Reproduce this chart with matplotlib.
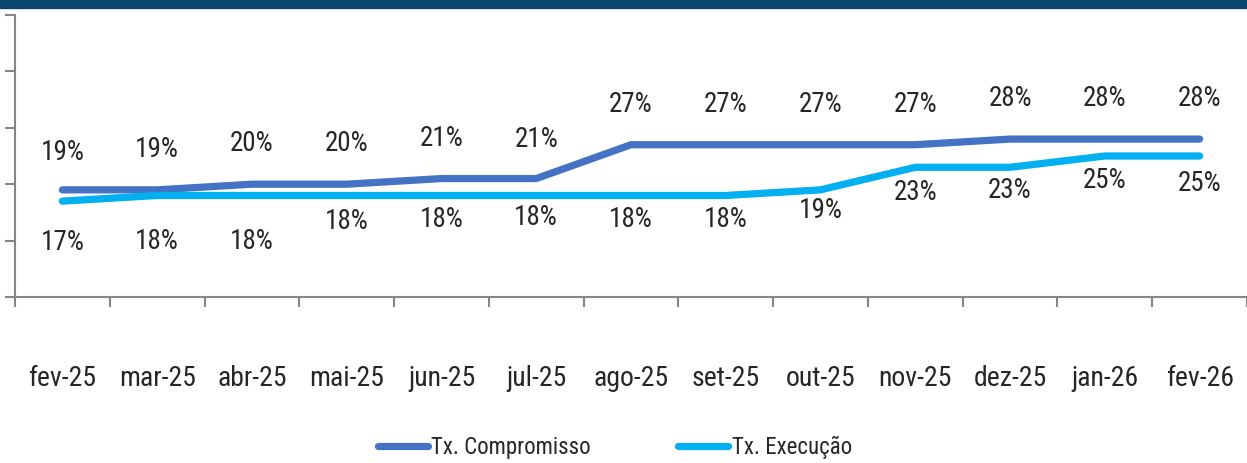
import matplotlib
matplotlib.use("Agg")
import matplotlib.pyplot as plt
from matplotlib import font_manager
from matplotlib.patches import Rectangle

# data
months = ["fev-25", "mar-25", "abr-25", "mai-25", "jun-25", "jul-25", "ago-25",
          "set-25", "out-25", "nov-25", "dez-25", "jan-26", "fev-26"]
compromisso = [19, 19, 20, 20, 21, 21, 27, 27, 27, 27, 28, 28, 28]
execucao = [17, 18, 18, 18, 18, 18, 18, 18, 19, 23, 23, 25, 25]

# label offsets (points) - layout only
off_comp = [27, 29, 29, 29, 29, 28, 29, 29, 29, 29, 29, 29, 29]
off_exec = [-30, -33, -33, -19, -17, -16, -17, -17, -15, -18, -17, -18, -20]

names = {f.name for f in font_manager.fontManager.ttflist}
fam = "DejaVu Sans"
for cand in ["Liberation Sans Narrow", "Roboto Condensed", "Open Sans Condensed", "Lato", "Roboto"]:
    if cand in names:
        fam = cand
        break
plt.rcParams['font.family'] = [fam, 'DejaVu Sans']

c_comp = "#4472C4"
c_exec = "#00B0F0"
grey = "#868686"
txt = "#262626"
fs = 19.5

W, H = 1247, 463
fig = plt.figure(figsize=(W / 100, H / 100), dpi=100)
fig.patches.append(Rectangle((0, 1 - 8 / H), 1, 8 / H, transform=fig.transFigure,
                             color="#0C4470", zorder=0))

ax = fig.add_axes([15 / W, (H - 297) / H, 1 - 15 / W, (297 - 15) / H])
x = list(range(len(months)))
ax.plot(x, compromisso, color=c_comp, lw=5.2, solid_capstyle='round', solid_joinstyle='round')
ax.plot(x, execucao, color=c_exec, lw=5.2, solid_capstyle='round', solid_joinstyle='round')

for i in x:
    ax.annotate(f"{compromisso[i]}%", (i, compromisso[i]), xytext=(0, off_comp[i]),
                textcoords='offset points', ha='center', va='center', fontsize=fs, color=txt)
    ax.annotate(f"{execucao[i]}%", (i, execucao[i]), xytext=(0, off_exec[i]),
                textcoords='offset points', ha='center', va='center', fontsize=fs, color=txt)

ax.set_ylim(0, 50)
ax.set_yticks([0, 10, 20, 30, 40, 50])
ax.set_yticklabels([])
ax.set_xlim(-0.5, 12.44)
ax.set_xticks([i - 0.5 for i in range(14)])
ax.set_xticklabels([])
ax.set_xticks(x, minor=True)
ax.set_xticklabels(months, minor=True, fontsize=20, color=txt)
ax.tick_params(axis='x', which='minor', length=0, pad=49)
ax.tick_params(axis='both', which='major', length=7, width=1.5, color=grey)
for s in ['top', 'right']:
    ax.spines[s].set_visible(False)
for s in ['left', 'bottom']:
    ax.spines[s].set_color(grey)
    ax.spines[s].set_linewidth(1.5)

leg = fig.legend(["Tx. Compromisso", "Tx. Execução"], loc='center', ncol=2,
                 bbox_to_anchor=(0.493, 0.034), frameon=False, fontsize=16.5,
                 handlelength=2.2, handletextpad=0.15, columnspacing=3.8,
                 borderpad=0.1)
for t in leg.get_texts():
    t.set_color(txt)

fig.savefig("out.png", dpi=100)
